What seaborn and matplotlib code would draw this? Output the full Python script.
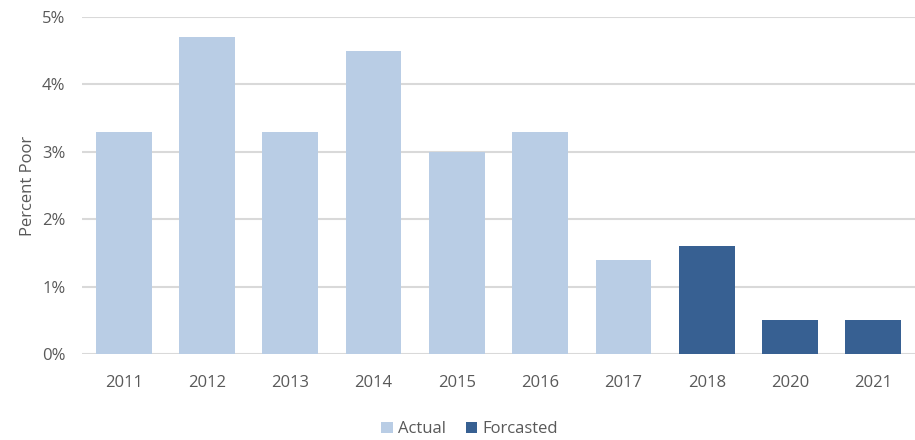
import pandas as pd
import matplotlib.pyplot as plt
import seaborn as sns

# data
years = ['2011', '2012', '2013', '2014', '2015', '2016', '2017', '2018', '2020', '2021']
percent_poor = [3.3, 4.7, 3.3, 4.5, 3.0, 3.3, 1.4, 1.6, 0.5, 0.5]
kind = ['Actual'] * 7 + ['Forcasted'] * 3

df = pd.DataFrame({'year': years, 'pct': percent_poor, 'kind': kind})

sns.set_style('white')
plt.rcParams['font.family'] = ['Open Sans', 'DejaVu Sans']
grey = '#595959'

fig = plt.figure(figsize=(9.15, 4.4), dpi=100)
ax = fig.add_axes([0.0896, 0.1955, 0.9104, 0.766])

sns.barplot(data=df, x='year', y='pct', hue='kind', dodge=False,
            palette={'Actual': '#B9CDE5', 'Forcasted': '#376092'},
            saturation=1, width=0.67, ax=ax, zorder=3, edgecolor='none')

ax.set_ylim(0, 5)
ax.set_xlim(-0.5, len(years) - 0.5)
ax.set_yticks(range(0, 6))
ax.set_yticklabels([f'{i}%' for i in range(0, 6)])
ax.yaxis.grid(True, color='#D9D9D9', linewidth=1.5, zorder=0)
ax.set_axisbelow(True)
for s in ax.spines.values():
    s.set_visible(False)
ax.tick_params(axis='both', length=0, labelsize=12, labelcolor=grey)
ax.tick_params(axis='x', pad=15)
ax.tick_params(axis='y', pad=12)
ax.set_xlabel('')
ax.set_ylabel('Percent Poor', fontsize=12, color=grey, labelpad=4)

ax.legend(loc='upper center', bbox_to_anchor=(0.465, -0.155), ncol=2, frameon=False,
          fontsize=12, labelcolor=grey, handlelength=0.7, handleheight=0.7,
          handletextpad=0.3, columnspacing=1.2)

fig.savefig('out.png', dpi=100)
